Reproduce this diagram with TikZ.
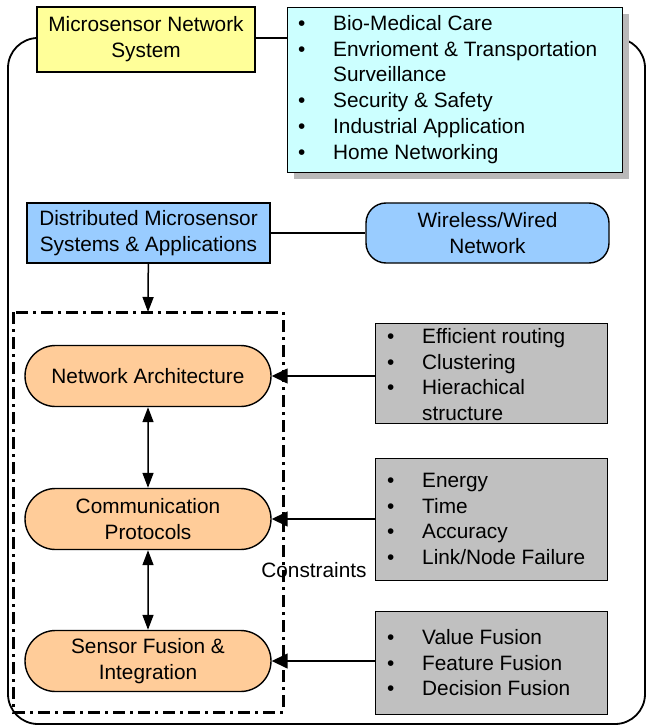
\documentclass[tikz,border=0pt]{standalone}
\usepackage{fontspec}
\setmainfont{Liberation Sans}
\usetikzlibrary{arrows.meta,shapes.misc}
\definecolor{yel}{HTML}{FFFF99}
\definecolor{cyanbox}{HTML}{CCFFFF}
\definecolor{bluebox}{HTML}{99CCFF}
\definecolor{peach}{HTML}{FFCC99}
\definecolor{graybox}{HTML}{C0C0C0}
\begin{document}
\begin{tikzpicture}[x=1pt,y=-1pt,
  every node/.style={font=\fontsize{20.8}{25.8}\selectfont, inner sep=0pt},
  rect/.style={draw, line width=1.4pt, align=center},
  stadium/.style={draw, line width=1.4pt, fill=peach, rounded rectangle, minimum width=246pt, minimum height=61pt, align=center},
  listbox/.style={draw, line width=1.4pt, fill=graybox, anchor=north west, align=left},
  link/.style={line width=1.5pt},
  fatarrow/.style={line width=1.5pt, -{Triangle[width=15pt,length=16pt]}},
  dbl/.style={line width=1.5pt, {Triangle[width=11pt,length=15pt]}-{Triangle[width=11pt,length=15pt]}},
  onearrow/.style={line width=1.5pt, -{Triangle[width=11pt,length=15pt]}}
]
\useasboundingbox (0,0) rectangle (647,727);
% outer frame
\draw[line width=1.8pt, rounded corners=30pt] (8,38) rectangle (645,724);

% top boxes
\node[rect, fill=yel, minimum width=218pt, minimum height=65pt] (mns) at (146,39.5) {Microsensor Network\\System};
\fill[gray!55] (294,14) rectangle (629,179);
\node[rect, fill=cyanbox, minimum width=335pt, minimum height=165pt, anchor=north west] (apps) at (287,7) {};
\node[anchor=north west, align=left] (appstext) at (298,12) {%
\begin{tabular}{@{}p{35pt}@{}l@{}}
\textbullet & Bio-Medical Care\\
\textbullet & Envrioment \& Transportation\\
 & Surveillance\\
\textbullet & Security \& Safety\\
\textbullet & Industrial Application\\
\textbullet & Home Networking
\end{tabular}};

% second row
\node[rect, fill=bluebox, minimum width=243pt, minimum height=60pt] (dist) at (148.5,233) {Distributed Microsensor\\Systems \& Applications};
\node[rect, fill=bluebox, rounded corners=20pt, minimum width=243pt, minimum height=60pt] (wire) at (487.5,233) {Wireless/Wired\\Network};
\draw[link] (dist) -- (wire);

% dash-dot box
\draw[line width=3pt, dash pattern=on 12pt off 5pt on 3pt off 5pt] (13,312) rectangle (283,712);
\coordinate (ddtop) at (148,312);
\draw[onearrow] (dist) -- (ddtop);

% stadiums
\node[stadium] (arch) at (148,376) {Network Architecture};
\node[stadium] (comm) at (148,519) {Communication\\Protocols};
\node[stadium] (fus) at (148,661) {Sensor Fusion \&\\Integration};
\draw[dbl] (arch) -- (comm);
\draw[dbl] (comm) -- (fus);

% gray boxes
\node[listbox, minimum width=232pt, minimum height=100pt] (g1) at (375,323) {};
\node[anchor=north west, align=left] at (387,325) {%
\begin{tabular}{@{}p{35pt}@{}l@{}}
\textbullet & Efficient routing\\
\textbullet & Clustering\\
\textbullet & Hierachical\\
 & structure
\end{tabular}};
\node[listbox, minimum width=232pt, minimum height=122pt] (g2) at (375,458) {};
\node[anchor=north west, align=left] at (387,469) {%
\begin{tabular}{@{}p{35pt}@{}l@{}}
\textbullet & Energy\\
\textbullet & Time\\
\textbullet & Accuracy\\
\textbullet & Link/Node Failure
\end{tabular}};
\node[listbox, minimum width=232pt, minimum height=103pt] (g3) at (375,611) {};
\node[anchor=north west, align=left] at (387,626) {%
\begin{tabular}{@{}p{35pt}@{}l@{}}
\textbullet & Value Fusion\\
\textbullet & Feature Fusion\\
\textbullet & Decision Fusion
\end{tabular}};

\draw[fatarrow] (g1.west |- arch.east) -- (arch.east);
\draw[fatarrow] (g2.west |- comm.east) -- (comm.east);
\draw[fatarrow] (g3.west |- fus.east) -- (fus.east);

\node (cons) at (314,570) {Constraints};
\end{tikzpicture}
\end{document}
